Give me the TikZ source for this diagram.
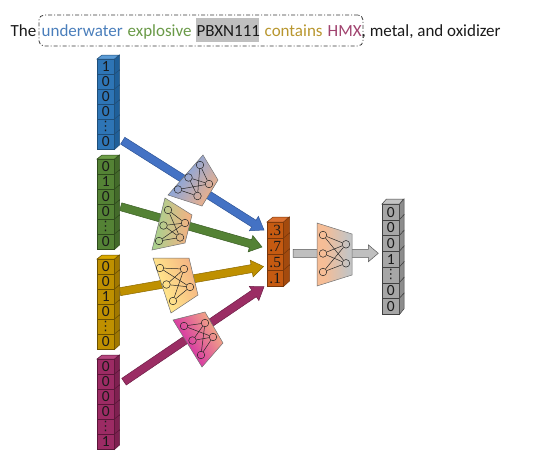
\documentclass[tikz,border=0pt]{standalone}
\usepackage{fontspec}
\setmainfont{Carlito}
\newfontfamily\numserif{Liberation Serif}
\newfontfamily\symfont{DejaVu Sans}
\usetikzlibrary{calc}

% text colours
\definecolor{txtblack}{HTML}{1A1A1A}
\definecolor{txtblue}{HTML}{4A7EBB}
\definecolor{txtgreen}{HTML}{6A9A48}
\definecolor{txtgold}{HTML}{B8962E}
\definecolor{txtpurple}{HTML}{A0426E}
\definecolor{hlgray}{HTML}{BFBFBF}
\definecolor{boxline}{HTML}{3A3A3A}
% stacks
\definecolor{sbF}{HTML}{2E75B6}\definecolor{sbT}{HTML}{5B9BD5}\definecolor{sbS}{HTML}{1F5F99}\definecolor{sbL}{HTML}{1F4E79}
\definecolor{sgF}{HTML}{548235}\definecolor{sgT}{HTML}{6E9E48}\definecolor{sgS}{HTML}{436A2A}\definecolor{sgL}{HTML}{2E4A1C}
\definecolor{syF}{HTML}{BF9000}\definecolor{syT}{HTML}{D9A800}\definecolor{syS}{HTML}{A07800}\definecolor{syL}{HTML}{6B5000}
\definecolor{spF}{HTML}{9C2B64}\definecolor{spT}{HTML}{B5467E}\definecolor{spS}{HTML}{7E2050}\definecolor{spL}{HTML}{5A1638}
\definecolor{soF}{HTML}{C55A11}\definecolor{soT}{HTML}{DA7030}\definecolor{soS}{HTML}{A34A0E}\definecolor{soL}{HTML}{7A370A}
\definecolor{skF}{HTML}{A6A6A6}\definecolor{skT}{HTML}{C4C4C4}\definecolor{skS}{HTML}{8C8C8C}\definecolor{skL}{HTML}{404040}
% arrows
\definecolor{abF}{HTML}{4472C4}\definecolor{abL}{HTML}{2F5597}
\definecolor{agF}{HTML}{548235}\definecolor{agL}{HTML}{3B5E25}
\definecolor{ayF}{HTML}{BF9000}\definecolor{ayL}{HTML}{8A6800}
\definecolor{apF}{HTML}{9B2D64}\definecolor{apL}{HTML}{6E1E46}
\definecolor{akF}{HTML}{BFBFBF}\definecolor{akL}{HTML}{595959}
% nets
\definecolor{nPeach}{HTML}{F4B183}
\definecolor{nBlue}{HTML}{8AA6DC}
\definecolor{nGreen}{HTML}{A9D18E}
\definecolor{nGold}{HTML}{FFE38A}
\definecolor{nPurple}{HTML}{D83DA2}
\definecolor{nGray}{HTML}{C4C4C4}

\pgfdeclarehorizontalshading{shB}{100bp}{color(0bp)=(nBlue); color(37bp)=(nBlue); color(76bp)=(nPeach); color(100bp)=(nPeach)}
\pgfdeclarehorizontalshading{shG}{100bp}{color(0bp)=(nGreen); color(30bp)=(nGreen); color(72bp)=(nPeach); color(100bp)=(nPeach)}
\pgfdeclarehorizontalshading{shY}{100bp}{color(0bp)=(nGold); color(38bp)=(nGold); color(76bp)=(nPeach); color(100bp)=(nPeach)}
\pgfdeclarehorizontalshading{shP}{100bp}{color(0bp)=(nPurple); color(39bp)=(nPurple); color(74bp)=(nPeach); color(100bp)=(nPeach)}
\pgfdeclarehorizontalshading{shK}{100bp}{color(0bp)=(nPeach!85!white); color(35bp)=(nPeach!85!white); color(70bp)=(nGray); color(100bp)=(nGray)}

\newcommand{\vdt}{{\symfont\fontsize{13}{13}\selectfont ⋮}}
\def\cellfont{\fontsize{15.5}{15.5}\selectfont}

\tikzset{
  ttl/.style={anchor=base west, inner sep=0pt, font=\fontsize{17}{19}\selectfont},
  cell/.style={draw=stL, fill=stF, line width=0.5pt, inner sep=0pt, text=txtblack, font=\cellfont, anchor=north west},
  stface/.style={draw=stL, line width=0.5pt},
  netframe/.style={draw=black!55, line width=0.5pt},
  neuron/.style={circle, draw=black!85, line width=0.5pt, minimum size=7.6pt, inner sep=0pt},
  synapse/.style={draw=black!85, line width=0.5pt},
  arrowbody/.style={line width=0.5pt, line join=miter},
}

\newcommand{\setstack}[1]{\colorlet{stF}{#1F}\colorlet{stT}{#1T}\colorlet{stS}{#1S}\colorlet{stL}{#1L}}

% #1 prefix, #2 x, #3 y, #4 cell w, #5 cell h, #6 labels
\newcommand{\cubestack}[6]{%
  \foreach \lab [count=\i] in {#6} {
    \node[cell, minimum width=#4pt, minimum height=#5pt] (#1\i) at (#2, {#3+(\i-1)*#5}) {\lab};
    \filldraw[stface, fill=stS] (#1\i.north east) -- ++(\sdx,-\sdy) -- ++(0,#5) -- (#1\i.south east) -- cycle;
  }
  \filldraw[stface, fill=stT] (#11.north west) -- ++(\sdx,-\sdy) -- ++(#4,0) -- (#11.north east) -- cycle;
}

% #1 style, #2 from, #3 to, #4 head length
\newcommand{\fatarrow}[4]{%
  \coordinate (fa-h) at ($(#3)!#4!(#2)$);
  \filldraw[arrowbody, #1] ($(#2)!4pt!90:(#3)$) -- ($(fa-h)!4pt!90:(#3)$) -- ($(fa-h)!8.5pt!90:(#3)$) -- (#3)
     -- ($(fa-h)!8.5pt!-90:(#3)$) -- ($(fa-h)!4pt!-90:(#3)$) -- ($(#2)!4pt!-90:(#3)$) -- cycle;
}

% #1 prefix, #2 shading name, #3 angle
\newcommand{\nnet}[3]{%
  \shade[shading=#2, shading angle=#3] (#1q1) -- (#1q2) -- (#1q3) -- (#1q4) -- cycle;
  \draw[netframe] (#1q1) -- (#1q2) -- (#1q3) -- (#1q4) -- cycle;
  \foreach \k in {1,2,3} {\node[neuron] (#1i\k) at (#1ci\k) {};}
  \foreach \k in {1,2} {\node[neuron] (#1o\k) at (#1co\k) {};}
  \foreach \a in {1,2,3} {\foreach \b in {1,2} {\draw[synapse] (#1i\a) -- (#1o\b);}}
}

\begin{document}
\begin{tikzpicture}[x=1pt,y=-1pt]
\useasboundingbox (0,0) rectangle (550,453);

% ---------- title ----------
\node[draw=boxline, line width=0.8pt, dash pattern=on 4pt off 2pt on 1pt off 2pt, rounded corners=5pt,
      minimum width=324pt, minimum height=31pt, inner sep=0pt] (phrasebox) at (201,30.5) {};
\node[fill=hlgray, minimum width=63pt, minimum height=24pt, inner sep=0pt] (hlbox) at (227.5,30.3) {};
\node[ttl, text=txtblack] (wthe) at (10.5,36.7) {The};
\node[ttl, text=txtblue] (wunder) at (41.5,36.7) {underwater};
\node[ttl, text=txtgreen] (wexpl) at (127.5,36.7) {explosive};
\node[ttl, text=txtblack] (wpbx) at (196.5,36.7) {PBXN111};
\node[ttl, text=txtgold] (wcont) at (264.5,36.7) {contains};
\node[ttl, text=txtpurple] (whmx) at (327.5,36.7) {HMX};
\node[ttl, text=txtblack] (wrest) at (361.5,36.7) {, metal, and oxidizer};

% ---------- stacks ----------
\def\sdx{5}\def\sdy{4}
\setstack{sb}\cubestack{b}{97}{59}{17}{15}{1,0,0,0,\vdt,0}
\setstack{sg}\cubestack{g}{97}{159}{17}{15}{0,1,0,0,\vdt,0}
\setstack{sy}\cubestack{y}{97}{259}{17}{15}{0,0,1,0,\vdt,0}
\setstack{sp}\cubestack{p}{97}{359}{17}{15}{0,0,0,0,\vdt,1}
\def\sdx{6}\def\sdy{5}
\def\cellfont{\numserif\fontsize{15.5}{15.5}\selectfont}
\setstack{so}\cubestack{o}{267}{222}{16}{16}{.3,.7,.5,.1}
\def\sdx{4.5}\def\sdy{5}
\def\cellfont{\fontsize{15.5}{15.5}\selectfont}
\setstack{sk}\cubestack{k}{382}{204}{17}{15.7}{0,0,0,1,\vdt,0,0}

% ---------- arrows ----------
\coordinate (btail) at (122.7,140.7);  \coordinate (btip) at (264,230);
\coordinate (gtail) at (120.7,206.7);  \coordinate (gtip) at (262,247);
\coordinate (ytail) at (120,291.7);    \coordinate (ytip) at (263.5,266.5);
\coordinate (ptail) at (124,381.7);    \coordinate (ptip) at (264,286.7);
\coordinate (ktail) at (293,253.3);    \coordinate (ktip) at (378.3,253.3);
\fatarrow{fill=abF, draw=abL}{btail}{btip}{12pt}
\fatarrow{fill=agF, draw=agL}{gtail}{gtip}{12pt}
\fatarrow{fill=ayF, draw=ayL}{ytail}{ytip}{12pt}
\fatarrow{fill=apF, draw=apL}{ptail}{ptip}{12pt}
\fatarrow{fill=akF, draw=akL}{ktail}{ktip}{10pt}

% ---------- networks ----------
% blue
\coordinate (nbq1) at (203,155); \coordinate (nbq2) at (218,180); \coordinate (nbq3) at (202,206); \coordinate (nbq4) at (168,195);
\coordinate (nbci1) at (200,165); \coordinate (nbci2) at (188.5,177.5); \coordinate (nbci3) at (178,189.5);
\coordinate (nbco1) at (209,184); \coordinate (nbco2) at (197.5,196);
\nnet{nb}{shB}{-36}
% green
\coordinate (ngq1) at (165,198); \coordinate (ngq2) at (192,215); \coordinate (ngq3) at (185,243); \coordinate (ngq4) at (152,250);
\coordinate (ngci1) at (168,210); \coordinate (ngci2) at (163.5,225.5); \coordinate (ngci3) at (159,241);
\coordinate (ngco1) at (185,223); \coordinate (ngco2) at (180,237.5);
\nnet{ng}{shG}{-5}
% gold
\coordinate (nyq1) at (153,258); \coordinate (nyq2) at (189,258); \coordinate (nyq3) at (198,295); \coordinate (nyq4) at (171,313);
\coordinate (nyci1) at (160,268); \coordinate (nyci2) at (166.5,284.5); \coordinate (nyci3) at (173,301);
\coordinate (nyco1) at (184,269); \coordinate (nyco2) at (190,287);
\nnet{ny}{shY}{22}
% purple
\coordinate (npq1) at (173,320); \coordinate (npq2) at (205,312); \coordinate (npq3) at (223,343); \coordinate (npq4) at (202,367);
\coordinate (npci1) at (184,326); \coordinate (npci2) at (192.5,340.5); \coordinate (npci3) at (201,355);
\coordinate (npco1) at (205,323); \coordinate (npco2) at (213,337);
\nnet{np}{shP}{32}
% big
\coordinate (nkq1) at (317,223); \coordinate (nkq2) at (352,234); \coordinate (nkq3) at (352,275); \coordinate (nkq4) at (317,286);
\coordinate (nkci1) at (323,235); \coordinate (nkci2) at (323,253.5); \coordinate (nkci3) at (323,272);
\coordinate (nkco1) at (346,244.3); \coordinate (nkco2) at (346,263.3);
\nnet{nk}{shK}{0}

\end{tikzpicture}
\end{document}
